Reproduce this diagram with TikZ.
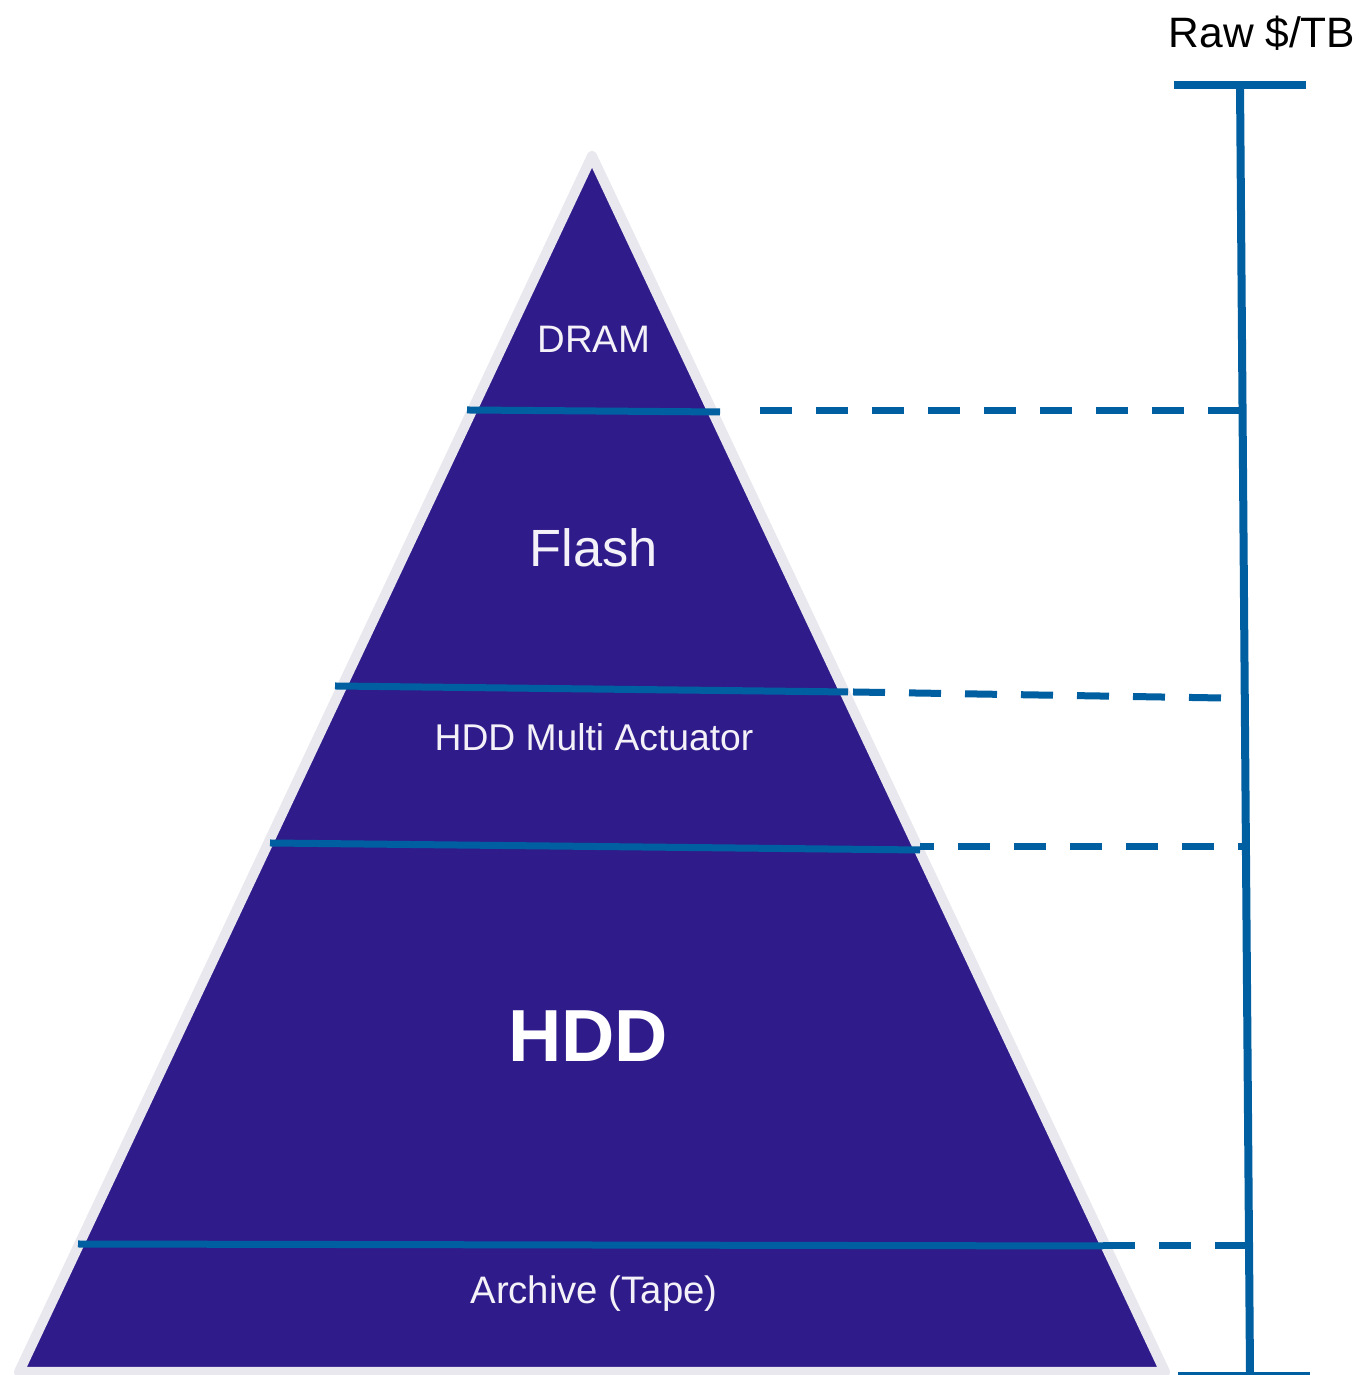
\documentclass[tikz,border=0pt]{standalone}
\usepackage{fontspec}
\setmainfont{Liberation Sans}
\usepackage{tikz}
\usetikzlibrary{positioning}
\usepackage{xcolor}
\definecolor{tierpurple}{HTML}{301B8A}
\definecolor{tieredge}{HTML}{E8E8EE}
\definecolor{costblue}{HTML}{005FA0}
\definecolor{tiertext}{HTML}{F4F2F8}

\begin{document}
\begin{tikzpicture}[
  tier/.style={text=tiertext,font=\fontsize{10.9}{13}\selectfont},
  cut/.style={costblue,line width=0.07cm},
  costdash/.style={costblue,line width=0.07cm,dash pattern=on 0.32cm off 0.24cm},
  axis/.style={costblue,line width=0.08cm}]
\useasboundingbox (0,0) rectangle (13.62,13.75);
\fill[white] (0,0) rectangle (13.62,13.75);
% pyramid
\draw[tieredge,fill=tierpurple,line width=0.1cm,line join=round]
  (5.92,12.19) -- (0.19,0.03) -- (11.65,0.03) -- cycle;
% tier labels
\node[tier] (dram) at (5.94,10.36) {DRAM};
\node[tier,font=\fontsize{14.9}{17}\selectfont] (flash) at (5.94,8.27) {Flash};
\node[tier,font=\fontsize{10.6}{13}\selectfont] (multi) at (5.94,6.38) {HDD Multi Actuator};
\node[tier,text=white,font=\bfseries\fontsize{21}{24}\selectfont] (hdd) at (5.88,3.39) {HDD};
\node[tier] (tape) at (5.94,0.81) {Archive (Tape)};
% cost axis
\coordinate (axtop) at (12.40,12.90);
\coordinate (axbot) at (12.50,0);
\node[font=\fontsize{12.1}{14}\selectfont] (raw) at (12.62,13.42) {Raw \$/TB};
\draw[axis] (axtop) -- (axbot);
\draw[axis] (11.74,12.90) -- (13.06,12.90);
\draw[axis] (11.78,-0.01) -- (13.10,-0.01);
% tier boundaries
\coordinate (a1) at (4.67,9.65);
\coordinate (b1) at (7.20,9.63);
\coordinate (c1) at (7.60,9.64);
\coordinate (e1) at (12.40,9.64);
\coordinate (a2) at (3.35,6.89);
\coordinate (b2) at (8.48,6.83);
\coordinate (c2) at (8.53,6.83);
\coordinate (e2) at (12.22,6.77);
\coordinate (a3) at (2.70,5.32);
\coordinate (b3) at (9.20,5.25);
\coordinate (c3) at (9.20,5.28);
\coordinate (e3) at (12.45,5.28);
\coordinate (a4) at (0.78,1.31);
\coordinate (b4) at (11.03,1.29);
\coordinate (e4) at (12.48,1.29);
\draw[cut] (a1) -- (b1);
\draw[costdash] (c1) -- (e1);
\draw[cut] (a2) -- (b2);
\draw[costdash] (c2) -- (e2);
\draw[cut] (a3) -- (b3);
\draw[costdash,dash phase=0.18cm] (c3) -- (e3);
\draw[cut] (a4) -- (b4);
\draw[costdash] (b4) -- (e4);
\end{tikzpicture}
\end{document}
